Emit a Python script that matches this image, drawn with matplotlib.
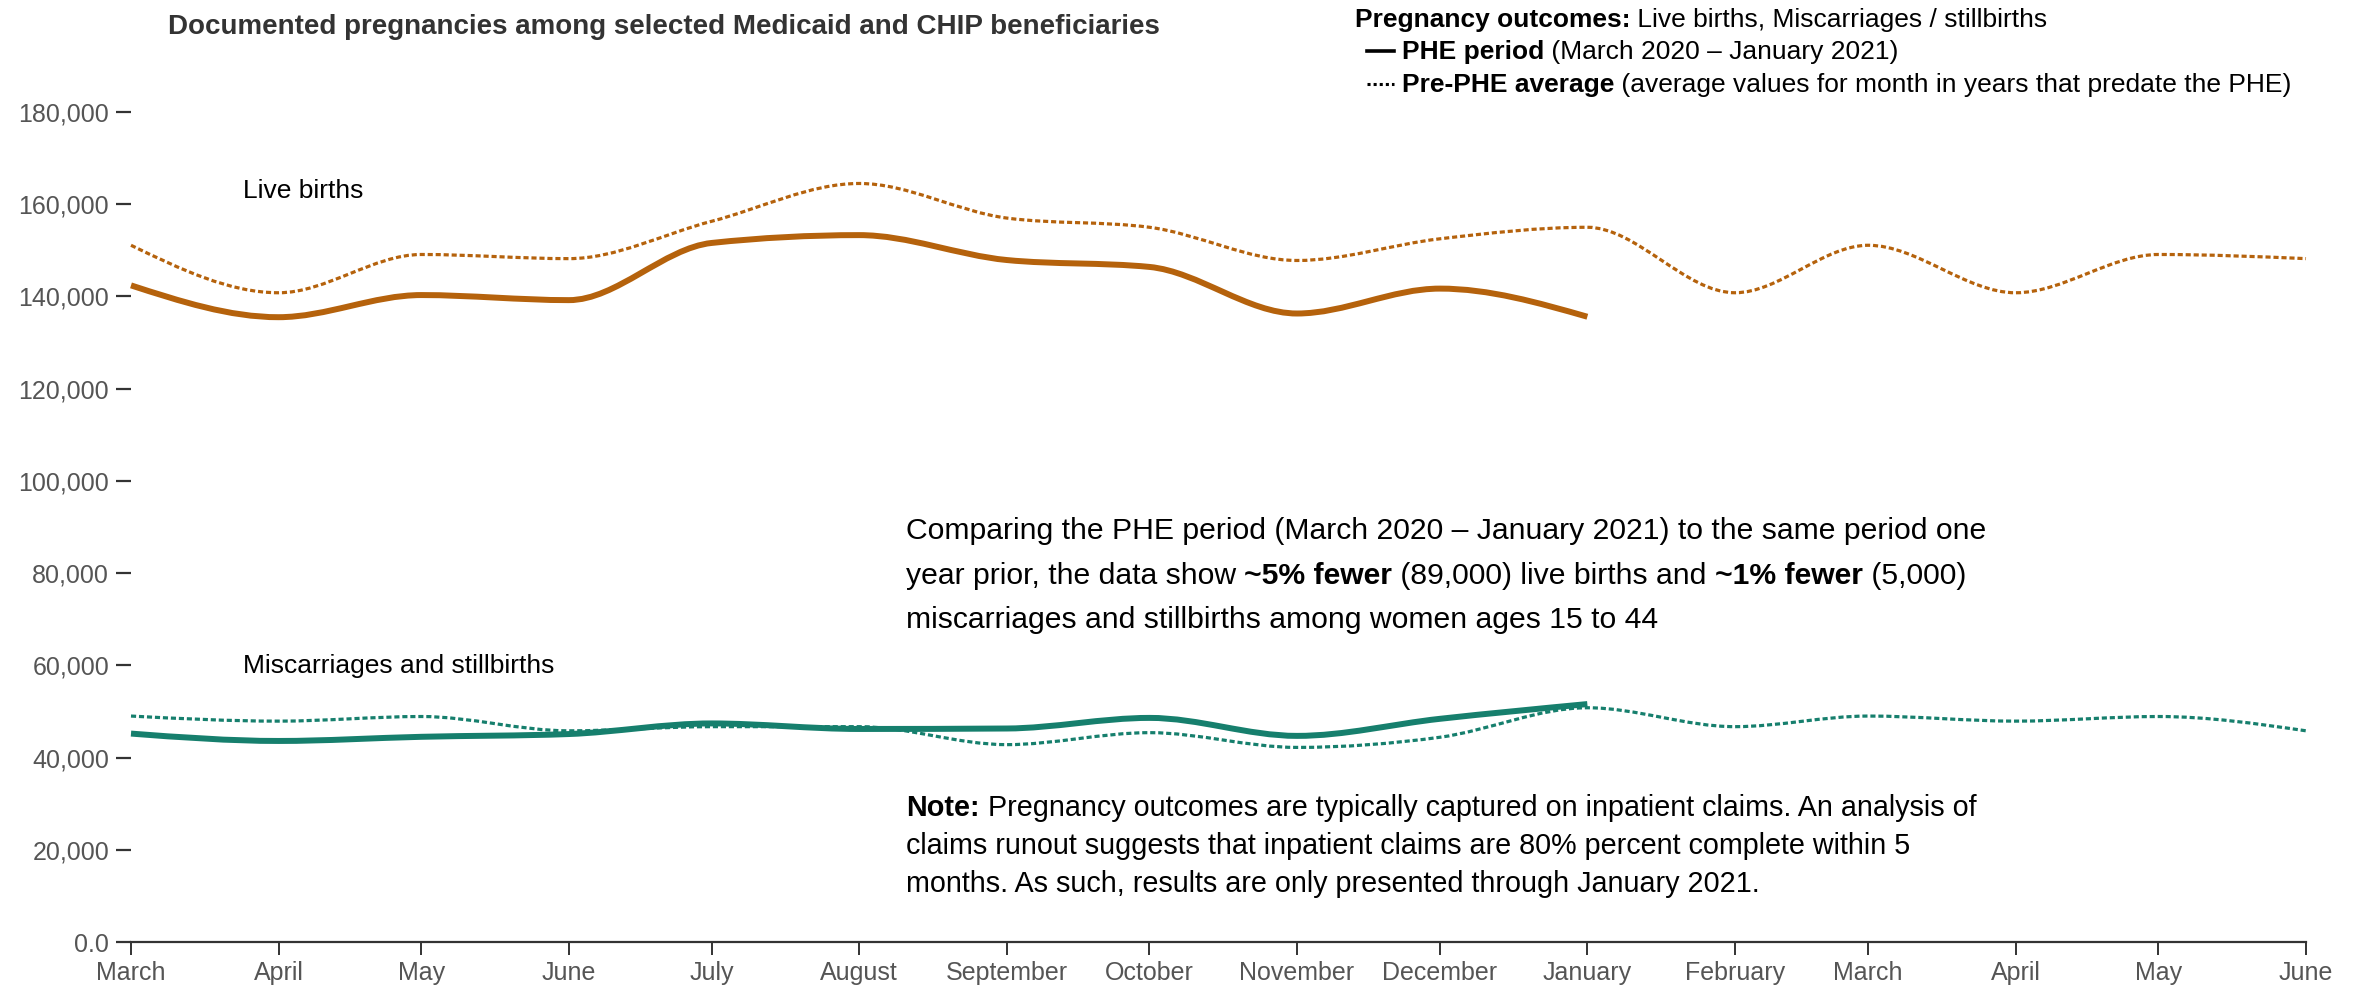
"""Embarazos documentados en Medicaid/CHIP: periodo PHE vs promedio pre-PHE."""

import matplotlib

matplotlib.use("Agg")
import matplotlib.dates as mdates
import matplotlib.pyplot as plt
import numpy as np
import pandas as pd
from matplotlib.lines import Line2D
from matplotlib.patches import PathPatch
from matplotlib.path import Path
from matplotlib.ticker import FuncFormatter

plt.rcParams["font.family"] = ["Liberation Sans", "DejaVu Sans"]

W, H = 2353, 988

months = pd.date_range("2020-03-01", "2021-06-01", freq="MS")
month_labels = [
    "March", "April", "May", "June", "July", "August", "September", "October",
    "November", "December", "January", "February", "March", "April", "May", "June",
]
phe_months = months[:11]

live_births_phe = [142400, 135500, 140300, 139200, 151600, 153300, 147900,
                   146400, 136300, 141700, 135600]
live_births_pre = [151100, 140800, 149100, 148200, 156300, 164500, 157000,
                   155000, 147800, 152500, 155000, 140800, 151100, 140800,
                   149100, 148200]
miscarriages_phe = [45200, 43600, 44500, 45100, 47400, 46200, 46300, 48600,
                    44700, 48400, 51600]
miscarriages_pre = [49000, 47900, 48900, 45800, 46700, 46700, 42800, 45400,
                    42200, 44400, 50800, 46700, 49000, 47900, 48900, 45800]

y_ticks = list(range(0, 180001, 20000))

ORANGE = "#b5620c"
TEAL = "#167f6d"
GREY = "#555555"
AXIS = "#333333"


def monotone_path(x, y):
    """Curva monotona en x (igual que d3.curveMonotoneX) como Path de Bezier."""
    x = np.asarray(x, dtype=float)
    y = np.asarray(y, dtype=float)
    n = len(x)
    h = np.diff(x)
    s = np.diff(y) / h
    t = np.zeros(n)
    for i in range(1, n - 1):
        p = (s[i - 1] * h[i] + s[i] * h[i - 1]) / (h[i - 1] + h[i])
        t[i] = (np.sign(s[i - 1]) + np.sign(s[i])) * min(
            abs(s[i - 1]), abs(s[i]), 0.5 * abs(p)
        )
    t[0] = (3 * s[0] - t[1]) / 2
    t[-1] = (3 * s[-1] - t[-2]) / 2
    verts = [(x[0], y[0])]
    codes = [Path.MOVETO]
    for i in range(n - 1):
        d = h[i] / 3
        verts += [
            (x[i] + d, y[i] + d * t[i]),
            (x[i + 1] - d, y[i + 1] - d * t[i + 1]),
            (x[i + 1], y[i + 1]),
        ]
        codes += [Path.CURVE4] * 3
    return Path(verts, codes)


def add_curve(ax, dates, values, color, dashed=False):
    path = monotone_path(mdates.date2num(dates), values)
    if dashed:
        style = dict(linewidth=2.3, linestyle=(0, (1.6, 0.9)))
    else:
        style = dict(linewidth=4.3, linestyle="-")
    ax.add_patch(
        PathPatch(path, fill=False, edgecolor=color, capstyle="butt",
                  clip_on=False, **style)
    )


fig = plt.figure(figsize=(W / 100, H / 100), dpi=100)
ax = fig.add_axes([131 / W, 1 - 942 / H, 2175 / W, (942 - 112) / H])

add_curve(ax, phe_months, live_births_phe, ORANGE)
add_curve(ax, months, live_births_pre, ORANGE, dashed=True)
add_curve(ax, phe_months, miscarriages_phe, TEAL)
add_curve(ax, months, miscarriages_pre, TEAL, dashed=True)

ax.set_xlim(mdates.date2num(months[0]), mdates.date2num(months[-1]))
ax.set_ylim(0, 180000)
ax.set_xticks(mdates.date2num(months))
ax.set_xticklabels(month_labels)
ax.set_yticks(y_ticks)
ax.yaxis.set_major_formatter(
    FuncFormatter(lambda v, _: "0.0" if v == 0 else f"{int(v):,}")
)

for side in ("top", "right", "left"):
    ax.spines[side].set_visible(False)
ax.spines["bottom"].set_color(AXIS)
ax.spines["bottom"].set_linewidth(1.6)
ax.tick_params(axis="y", length=10.8, width=1.6, color=AXIS, pad=5,
               labelsize=18, labelcolor=GREY)
ax.tick_params(axis="x", length=9.4, width=1.4, color=AXIS, pad=4,
               labelsize=18, labelcolor=GREY)

renderer = fig.canvas.get_renderer()


def rich_line(x_px, y_px, parts, size, color="black"):
    """Escribe una linea con tramos normales y en negrita, uno tras otro."""
    x = x_px
    for text, bold in parts:
        t = fig.text(x / W, 1 - y_px / H, text, fontsize=size, color=color,
                     fontweight="bold" if bold else "normal",
                     ha="left", va="baseline")
        x = t.get_window_extent(renderer).x1


# Titulo y etiquetas de series
fig.text(168 / W, 1 - 34 / H,
         "Documented pregnancies among selected Medicaid and CHIP beneficiaries",
         fontsize=20, fontweight="bold", color=AXIS, ha="left", va="baseline")
fig.text(243 / W, 1 - 198 / H, "Live births", fontsize=19, ha="left",
         va="baseline")
fig.text(243 / W, 1 - 673 / H, "Miscarriages and stillbirths", fontsize=19,
         ha="left", va="baseline")

# Leyenda
rich_line(1355, 27, [("Pregnancy outcomes:", True),
                     (" Live births, Miscarriages / stillbirths", False)], 19)
rich_line(1402, 59, [("PHE period", True),
                     (" (March 2020 \u2013 January 2021)", False)], 19)
rich_line(1402, 92, [("Pre-PHE average", True),
                     (" (average values for month in years that predate the PHE)",
                      False)], 19)
fig.add_artist(Line2D([1367 / W, 1394 / W], [1 - 51 / H, 1 - 51 / H],
                      transform=fig.transFigure, color="black", linewidth=2.6))
fig.add_artist(Line2D([1367 / W, 1394 / W], [1 - 84 / H, 1 - 84 / H],
                      transform=fig.transFigure, color="black", linewidth=2.2,
                      linestyle=(0, (1, 1))))

# Texto de comparacion
rich_line(906, 539, [("Comparing the PHE period (March 2020 \u2013 January 2021) "
                      "to the same period one", False)], 21.7)
rich_line(906, 584, [("year prior, the data show ", False), ("~5% fewer", True),
                     (" (89,000) live births and ", False), ("~1% fewer", True),
                     (" (5,000)", False)], 21.7)
rich_line(906, 628, [("miscarriages and stillbirths among women ages 15 to 44",
                      False)], 21.7)

# Nota
rich_line(906, 816, [("Note:", True),
                     (" Pregnancy outcomes are typically captured on inpatient "
                      "claims. An analysis of", False)], 20.7)
rich_line(906, 854, [("claims runout suggests that inpatient claims are 80% "
                      "percent complete within 5", False)], 20.7)
rich_line(906, 892, [("months. As such, results are only presented through "
                      "January 2021.", False)], 20.7)

fig.savefig("out.png", dpi=100)
